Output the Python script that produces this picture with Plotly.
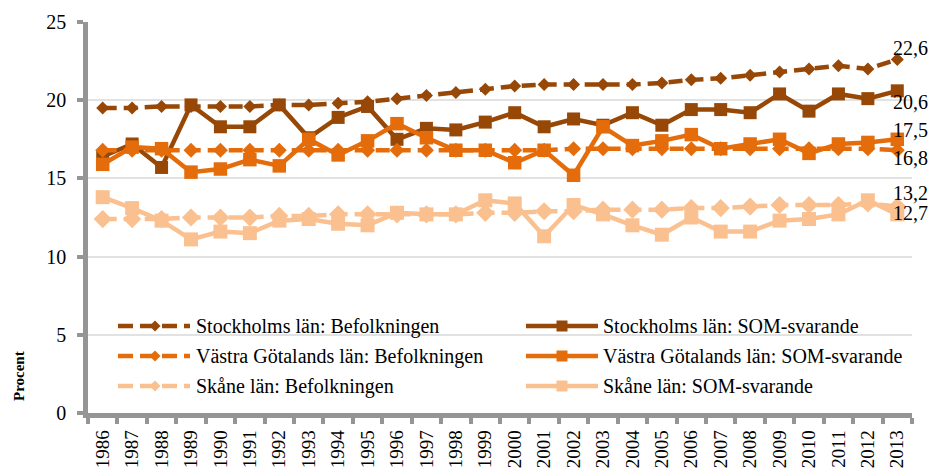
import plotly.graph_objects as go

# ---------------- data ----------------
years = [str(y) for y in range(1986, 2014)]

stockholm_bef = [19.5, 19.5, 19.6, 19.6, 19.6, 19.6, 19.7, 19.7, 19.8, 19.9,
                 20.1, 20.3, 20.5, 20.7, 20.9, 21.0, 21.0, 21.0, 21.0, 21.1,
                 21.3, 21.4, 21.6, 21.8, 22.0, 22.2, 22.0, 22.6]
stockholm_som = [16.4, 17.2, 15.7, 19.7, 18.3, 18.3, 19.7, 17.6, 18.9, 19.6,
                 17.5, 18.2, 18.1, 18.6, 19.2, 18.3, 18.8, 18.4, 19.2, 18.4,
                 19.4, 19.4, 19.2, 20.4, 19.3, 20.4, 20.1, 20.6]
vg_bef = [16.8, 16.8, 16.8, 16.8, 16.8, 16.8, 16.8, 16.8, 16.8, 16.8,
          16.8, 16.8, 16.8, 16.8, 16.8, 16.8, 16.9, 16.9, 16.9, 16.9,
          16.9, 16.9, 16.9, 16.9, 16.9, 16.9, 16.9, 16.8]
vg_som = [15.9, 17.0, 16.9, 15.4, 15.6, 16.2, 15.8, 17.5, 16.5, 17.4,
          18.5, 17.6, 16.8, 16.8, 16.0, 16.8, 15.2, 18.3, 17.1, 17.4,
          17.8, 16.9, 17.2, 17.5, 16.6, 17.2, 17.3, 17.5]
sk_bef = [12.4, 12.4, 12.4, 12.5, 12.5, 12.5, 12.6, 12.6, 12.7, 12.7,
          12.7, 12.7, 12.7, 12.8, 12.8, 12.9, 12.9, 13.0, 13.0, 13.0,
          13.1, 13.1, 13.2, 13.3, 13.3, 13.3, 13.4, 13.2]
sk_som = [13.8, 13.1, 12.3, 11.1, 11.6, 11.5, 12.3, 12.4, 12.1, 12.0,
          12.8, 12.7, 12.7, 13.6, 13.4, 11.3, 13.3, 12.7, 12.0, 11.4,
          12.5, 11.6, 11.6, 12.3, 12.4, 12.7, 13.6, 12.7]

series_names = ["Stockholms län: Befolkningen",
                "Stockholms län: SOM-svarande",
                "Västra Götalands län: Befolkningen",
                "Västra Götalands län: SOM-svarande",
                "Skåne län: Befolkningen",
                "Skåne län: SOM-svarande"]
y_title = "Procent"

# ---------------- styles ----------------
DARK, ORANGE, LIGHT = "#974706", "#E46C0A", "#FAC090"
DASH = "14px,7px"
FONT = "Liberation Serif"
AXIS_COL = "#959595"

series = [
    dict(vals=stockholm_bef, name=series_names[0], color=DARK, dash=DASH, symbol="diamond", size=10, lshift=12),
    dict(vals=stockholm_som, name=series_names[1], color=DARK, dash="solid", symbol="square", size=13, lshift=-11),
    dict(vals=vg_bef, name=series_names[2], color=ORANGE, dash=DASH, symbol="diamond", size=11.5, lshift=-8),
    dict(vals=vg_som, name=series_names[3], color=ORANGE, dash="solid", symbol="square", size=13.5, lshift=9),
    dict(vals=sk_bef, name=series_names[4], color=LIGHT, dash=DASH, symbol="diamond", size=14, lshift=14),
    dict(vals=sk_som, name=series_names[5], color=LIGHT, dash="solid", symbol="square", size=14, lshift=1),
]

fig = go.Figure()
for s in series:
    fig.add_trace(go.Scatter(
        x=years, y=s["vals"], mode="lines+markers", name=s["name"],
        line=dict(color=s["color"], width=4.5, dash=s["dash"]),
        marker=dict(symbol=s["symbol"], size=s["size"], color=s["color"]),
        showlegend=False, cliponaxis=False))

# value labels at the last year (x given as category index)
last_idx = len(years) - 1
annotations = []
for s in series:
    v = s["vals"][-1]
    annotations.append(dict(
        x=last_idx, y=v, xref="x", yref="y",
        text=f"{v:.1f}".replace(".", ","), showarrow=False,
        xanchor="left", yanchor="middle", xshift=-6, yshift=s["lshift"],
        font=dict(family=FONT, size=20, color="black")))

# The page body adds an 8px offset, so the figure's own pixel frame is
# shifted by OFF relative to the window.
OFF = 8
W, H = 937, 470
L, T = 88 - OFF, 22 - OFF            # plot area left/top in figure pixels
PW, PH = 824, 391                    # plot area size
R, B = W - L - PW, H - T - PH


def px(x_win):
    return (x_win - OFF - L) / PW


def py(y_win):
    return (T + PH - (y_win - OFF)) / PH


shapes = []
rows = [326, 356, 386]
cols = [dict(x0=118, x1=190, xm=155, xt=194), dict(x0=526, x1=598, xm=562, xt=601)]
for i, s in enumerate(series):
    c = cols[i % 2]
    r = rows[i // 2]
    shapes.append(dict(type="line", xref="paper", yref="paper",
                       x0=px(c["x0"]), x1=px(c["x1"]), y0=py(r), y1=py(r),
                       line=dict(color=s["color"], width=4.5,
                                 dash="15px,7px" if s["dash"] != "solid" else "solid"),
                       layer="above"))
    if s["symbol"] == "diamond":
        path = "M-5.5,0L0,5.5L5.5,0L0,-5.5Z"
    else:
        path = "M-5.5,-5.5L5.5,-5.5L5.5,5.5L-5.5,5.5Z"
    shapes.append(dict(type="path", xref="paper", yref="paper",
                       xsizemode="pixel", ysizemode="pixel",
                       xanchor=px(c["xm"]), yanchor=py(r), path=path,
                       fillcolor=s["color"], line=dict(width=0), layer="above"))
    annotations.append(dict(x=px(c["xt"]), y=py(r), xref="paper", yref="paper",
                            text=s["name"], showarrow=False,
                            xanchor="left", yanchor="middle",
                            font=dict(family=FONT, size=20, color="black")))

annotations.append(dict(x=px(19), y=py(376), xref="paper", yref="paper",
                        text="<b>" + y_title + "</b>", showarrow=False, textangle=-90,
                        xanchor="center", yanchor="middle",
                        font=dict(family=FONT, size=15, color="black")))

fig.update_layout(
    width=W, height=H, margin=dict(l=L, r=R, t=T, b=B, autoexpand=False),
    plot_bgcolor="white", paper_bgcolor="white",
    font=dict(family=FONT, size=20, color="black"),
    showlegend=False, shapes=shapes, annotations=annotations)

fig.update_xaxes(type="category", range=[-0.5, len(years) - 0.5], automargin=False,
                 showline=True, linecolor=AXIS_COL, linewidth=4.5,
                 ticks="outside", tickson="boundaries", ticklen=6, tickwidth=4,
                 tickcolor=AXIS_COL, tickangle=-90, showgrid=False,
                 tickfont=dict(family=FONT, size=19, color="black"),
                 ticklabelstandoff=5)
fig.update_yaxes(range=[0, 25], dtick=5, tick0=0, showgrid=True, automargin=False,
                 gridcolor="#e2e2e2", gridwidth=2,
                 showline=True, linecolor=AXIS_COL, linewidth=4.5,
                 ticks="outside", ticklen=6, tickwidth=4, tickcolor=AXIS_COL,
                 zeroline=False, tickfont=dict(family=FONT, size=20, color="black"),
                 ticklabelstandoff=7)

fig.write_html("out.html")
